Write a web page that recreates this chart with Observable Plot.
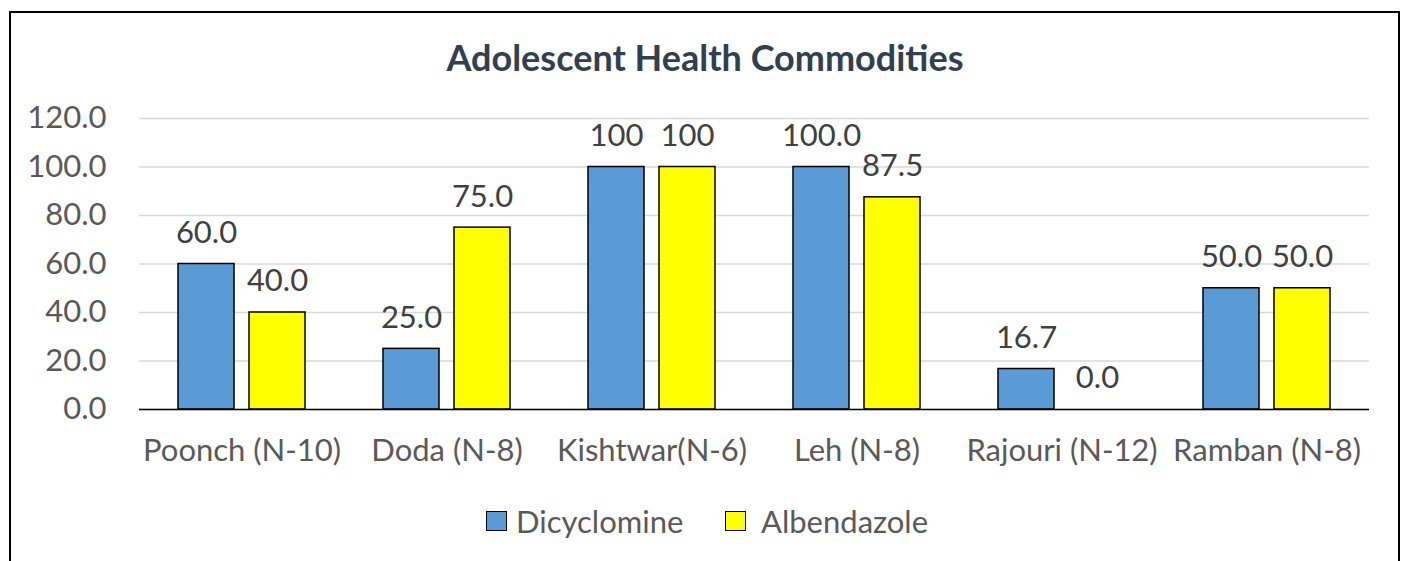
<!DOCTYPE html>
<html><head><meta charset="utf-8">
<script src="https://cdn.jsdelivr.net/npm/d3@7"></script>
<script src="https://cdn.jsdelivr.net/npm/@observablehq/plot@0.6"></script>
<style>
body{margin:0;background:#fff;font-family:Lato,"Open Sans",sans-serif;width:1406px;height:561px;overflow:hidden;position:relative;}
#frame{position:absolute;left:9px;top:11px;width:1391px;height:620px;border:2px solid #000;box-sizing:border-box;}
#title{position:absolute;left:0;width:1410px;top:35px;line-height:44px;text-align:center;font-weight:bold;font-size:36px;color:#323F4F;}
#chart{position:absolute;left:0;top:0;}
#legend{position:absolute;top:503px;left:0;width:1406px;height:36px;font-size:31px;color:#595959;}
.sw{position:absolute;top:8px;width:21px;height:20px;border:1.5px solid #000;box-sizing:border-box;}
.lt{position:absolute;top:0;line-height:36px;}
</style></head>
<body>
<div id="frame"></div>
<div id="chart"></div>
<div id="title">Adolescent Health Commodities</div>
<div id="legend"></div>
<script>
const categories = ["Poonch (N-10)","Doda (N-8)","Kishtwar(N-6)","Leh (N-8)","Rajouri (N-12)","Ramban (N-8)"];
const series = ["Dicyclomine","Albendazole"];
const dicyclomine = [60,25,100,100,16.7,50];
const albendazole = [40,75,100,87.5,0,50];
const dicyclomineLabels = ["60.0","25.0","100","100.0","16.7","50.0"];
const albendazoleLabels = ["40.0","75.0","100","87.5","0.0","50.0"];
const yTicks = [0,20,40,60,80,100,120];
const colors = ["#5B9BD5","#FFFF00"];

const data = [];
categories.forEach((c,i)=>{
  data.push({cat:c, series:series[0], value:dicyclomine[i], label:dicyclomineLabels[i]});
  data.push({cat:c, series:series[1], value:albendazole[i], label:albendazoleLabels[i]});
});

const chart = Plot.plot({
  width:1406, height:480,
  marginLeft:138, marginRight:36, marginTop:118, marginBottom:71,
  style:{fontFamily:"Lato, 'Open Sans', sans-serif", fontSize:"31px", color:"#595959", background:"transparent"},
  fx:{domain:categories, padding:0, label:null},
  x:{domain:series, paddingInner:0.211, paddingOuter:0.549, axis:null},
  y:{domain:[0,120], label:null},
  color:{domain:series, range:colors},
  marks:[
    Plot.gridY(yTicks, {stroke:"#d9d9d9", strokeOpacity:1, strokeWidth:1.5}),
    Plot.axisY(yTicks, {tickSize:0, tickPadding:33, tickFormat:d=>d.toFixed(1), fontSize:31, fill:"#595959", label:null}),
    Plot.axisFx({anchor:"bottom", tickSize:0, tickPadding:29, fontSize:31, fill:"#595959", label:null}),
    Plot.barY(data, {fx:"cat", x:"series", y:"value", fill:"series", stroke:"#000", strokeWidth:1.5}),
    Plot.ruleY([0], {stroke:"#000", strokeWidth:1.5}),
    Plot.text(data, {fx:"cat", x:"series", y:"value", text:"label", dy:-31, fontSize:31, fill:"#404040"})
  ]
});
document.getElementById("chart").appendChild(chart);

const legend = document.getElementById("legend");
const swLeft = [486, 725];
const txLeft = [516, 761];
series.forEach((s,i)=>{
  const sw = document.createElement("div");
  sw.className="sw"; sw.style.left=swLeft[i]+"px"; sw.style.background=colors[i];
  legend.appendChild(sw);
  const t = document.createElement("div");
  t.className="lt"; t.style.left=txLeft[i]+"px"; t.textContent=s;
  legend.appendChild(t);
});
</script>
</body></html>
